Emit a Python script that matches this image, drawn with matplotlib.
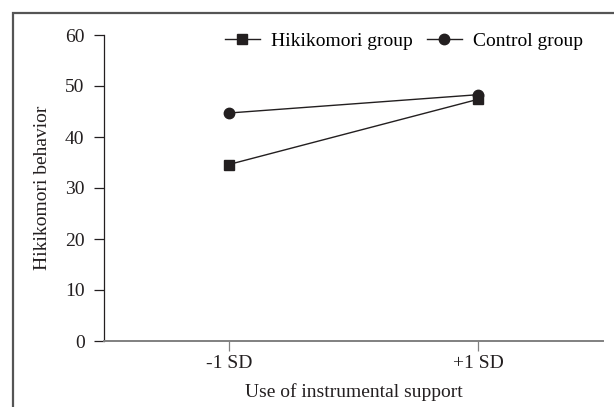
import matplotlib
matplotlib.use('Agg')
import matplotlib.pyplot as plt
from matplotlib.patches import Rectangle

# data
levels = ['-1 SD', '+1 SD']
hikikomori = [34.6, 47.4]
control = [44.7, 48.3]
y_ticks = [0, 10, 20, 30, 40, 50, 60]

plt.rcParams['font.family'] = ['Liberation Serif', 'DejaVu Serif']
plt.rcParams['font.size'] = 14

W, H = 614, 407
fig = plt.figure(figsize=(W / 100, H / 100), dpi=100)

# frame round the figure (only left and top edges show)
fig.patches.append(Rectangle((13 / W, -0.1), 1.2, 1 - 13 / H + 0.1,
                             transform=fig.transFigure, fill=False,
                             edgecolor='#555555', linewidth=1.6))

ax = fig.add_axes([104 / W, 1 - 341 / H, (603 - 104) / W, (341 - 35) / H])

x = list(range(len(levels)))
ax.plot(x, hikikomori, color='#231f20', linewidth=1.0, marker='s',
        markersize=7, label='Hikikomori group')
ax.plot(x, control, color='#231f20', linewidth=1.0, marker='o',
        markersize=7.5, label='Control group')

ax.set_xlim(-0.5, 1.5)
ax.set_ylim(0, 60)
ax.set_xticks(x)
ax.set_xticklabels(levels)
ax.set_yticks(y_ticks)

for side in ['top', 'right']:
    ax.spines[side].set_visible(False)
ax.spines['left'].set_color('#231f20')
ax.spines['left'].set_linewidth(0.9)
ax.spines['bottom'].set_color('#808080')
ax.spines['bottom'].set_linewidth(1.4)
ax.tick_params(axis='y', length=7, width=0.9, color='#231f20', pad=7,
               labelcolor='#231f20')
ax.tick_params(axis='x', length=7, width=0.9, color='#808080', pad=3,
               labelcolor='#231f20')

ax.set_xlabel('Use of instrumental support', color='#231f20', labelpad=8)
ax.set_ylabel('Hikikomori behavior', color='#231f20', labelpad=10)

ax.legend(loc='upper right', bbox_to_anchor=(0.976, 1.035), ncol=2, frameon=False,
          handlelength=1.8, handletextpad=0.6, columnspacing=0.7,
          borderaxespad=0.0)

fig.savefig('out.png', dpi=100)
